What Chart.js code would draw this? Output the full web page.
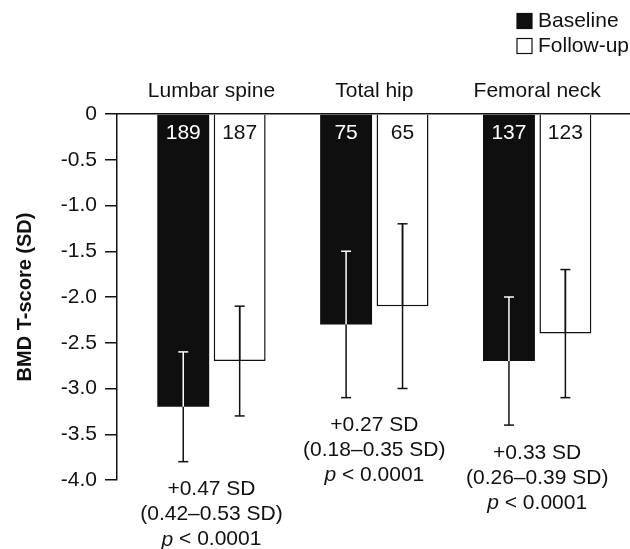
<!DOCTYPE html>
<html>
<head>
<meta charset="utf-8">
<script src="https://cdn.jsdelivr.net/npm/chart.js@4"></script>
<style>
  html, body { margin: 0; padding: 0; background: #fff; }
  #wrap { width: 630px; height: 549px; }
</style>
</head>
<body>
<div id="wrap"><canvas id="bmd-chart"></canvas></div>
<script>
// Skeletal sites
const categories = ['Lumbar spine', 'Total hip', 'Femoral neck'];

// Mean BMD T-scores
const baseline = [-3.2, -2.3, -2.7];
const followUp = [-2.7, -2.1, -2.4];

// Error bar ends
const baselineLow = [-3.8, -3.1, -3.4];
const baselineHigh = [-2.6, -1.5, -2.0];
const followUpLow = [-3.3, -3.0, -3.1];
const followUpHigh = [-2.1, -1.2, -1.7];

// Number of patients per bar
const baselineN = [189, 75, 137];
const followUpN = [187, 65, 123];

// Change in T-score shown under each site
const changeText = ['+0.47 SD', '+0.27 SD', '+0.33 SD'];
const ciText = ['(0.42–0.53 SD)', '(0.18–0.35 SD)', '(0.26–0.39 SD)'];
const pText = ['< 0.0001', '< 0.0001', '< 0.0001'];

const FONT = "'Liberation Sans', Arial, sans-serif";
const INK = '#111';

Chart.defaults.font.family = FONT;
Chart.defaults.font.size = 21;
Chart.defaults.color = INK;

/**
 * Draws the error bars; the part inside a dark bar is drawn in the dataset's inner colour.
 */
const errorBars = {
  id: 'errorBars',
  afterDatasetsDraw(chart) {
    const { ctx, scales: { y } } = chart;
    ctx.save();
    ctx.lineWidth = 1.5;
    chart.data.datasets.forEach((ds, di) => {
      const meta = chart.getDatasetMeta(di);
      meta.data.forEach((bar, i) => {
        const top = y.getPixelForValue(ds.errHigh[i]);
        const bottom = y.getPixelForValue(ds.errLow[i]);
        const barTop = Math.min(bar.base, bar.y);
        const barBottom = Math.max(bar.base, bar.y);
        const inside = (p) => p >= barTop && p <= barBottom;
        const seg = (x1, y1, x2, y2, color) => {
          ctx.strokeStyle = color;
          ctx.beginPath();
          ctx.moveTo(x1, y1);
          ctx.lineTo(x2, y2);
          ctx.stroke();
        };
        // full stem in black, then the inner part over it
        seg(bar.x, top, bar.x, bottom, INK);
        const a = Math.max(top, barTop);
        const b = Math.min(bottom, barBottom);
        if (b > a) seg(bar.x, a, bar.x, b, ds.errInside);
        // caps
        [top, bottom].forEach(p => {
          seg(bar.x - 5, p, bar.x + 5, p, inside(p) ? ds.errInside : INK);
        });
      });
    });
    ctx.restore();
  }
};

/**
 * Writes the patient counts at the top of each bar and the change text under each site.
 */
const barText = {
  id: 'barText',
  afterDatasetsDraw(chart) {
    const { ctx, chartArea, scales: { y } } = chart;
    ctx.save();
    ctx.textAlign = 'center';
    ctx.textBaseline = 'middle';
    ctx.font = `21px ${FONT}`;
    chart.data.datasets.forEach((ds, di) => {
      const meta = chart.getDatasetMeta(di);
      meta.data.forEach((bar, i) => {
        ctx.fillStyle = ds.countColor;
        ctx.fillText(String(ds.counts[i]), bar.x, chartArea.top + 19);
      });
    });

    const m0 = chart.getDatasetMeta(0);
    const m1 = chart.getDatasetMeta(1);
    categories.forEach((c, i) => {
      const x = (m0.data[i].x + m1.data[i].x) / 2;
      const lowest = Math.min(baselineLow[i], followUpLow[i]);
      const y0 = y.getPixelForValue(lowest) + 28;
      ctx.fillStyle = INK;
      ctx.textAlign = 'center';
      ctx.font = `21px ${FONT}`;
      ctx.fillText(changeText[i], x, y0);
      ctx.fillText(ciText[i], x, y0 + 25);
      // italic p followed by the value
      ctx.font = `italic 21px ${FONT}`;
      const pw = ctx.measureText('p ').width;
      ctx.font = `21px ${FONT}`;
      const rw = ctx.measureText(pText[i]).width;
      const left = x - (pw + rw) / 2;
      ctx.textAlign = 'left';
      ctx.font = `italic 21px ${FONT}`;
      ctx.fillText('p', left, y0 + 50);
      ctx.font = `21px ${FONT}`;
      ctx.fillText(pText[i], left + pw, y0 + 50);
    });
    ctx.restore();
  }
};

/**
 * Stacked legend in the top right corner.
 */
const cornerLegend = {
  id: 'cornerLegend',
  afterDraw(chart) {
    const { ctx } = chart;
    ctx.save();
    ctx.font = `21px ${FONT}`;
    ctx.textBaseline = 'middle';
    ctx.textAlign = 'left';
    chart.data.datasets.forEach((ds, i) => {
      const cy = 21 + i * 25;
      ctx.fillStyle = ds.backgroundColor;
      ctx.fillRect(517, cy - 7.5, 15, 15);
      ctx.strokeStyle = INK;
      ctx.lineWidth = 1.2;
      ctx.strokeRect(517, cy - 7.5, 15, 15);
      ctx.fillStyle = INK;
      ctx.fillText(ds.label, 538, cy);
    });
    ctx.restore();
  }
};

const canvas = document.getElementById('bmd-chart');

new Chart(canvas, {
  type: 'bar',
  data: {
    datasets: [
      {
        label: 'Baseline',
        data: baseline.map((v, i) => ({ x: i, y: v })),
        backgroundColor: '#0f0f0f',
        borderColor: INK,
        borderWidth: 0,
        errLow: baselineLow,
        errHigh: baselineHigh,
        errInside: '#ffffff',
        counts: baselineN,
        countColor: '#ffffff',
      },
      {
        label: 'Follow-up',
        data: followUp.map((v, i) => ({ x: i, y: v })),
        backgroundColor: '#ffffff',
        borderColor: INK,
        borderWidth: 1.5,
        errLow: followUpLow,
        errHigh: followUpHigh,
        errInside: INK,
        counts: followUpN,
        countColor: INK,
      },
    ],
  },
  options: {
    responsive: true,
    maintainAspectRatio: false,
    animation: false,
    categoryPercentage: 0.693,
    barPercentage: 0.92,
    layout: { padding: { top: 0, right: 0, bottom: 69, left: 0 } },
    plugins: {
      legend: { display: false },
      tooltip: { enabled: false },
    },
    scales: {
      x: {
        type: 'linear',
        position: 'top',
        min: -0.58,
        max: 2.57,
        offset: false,
        grid: { display: false, drawTicks: false },
        border: { display: true, color: INK, width: 1.5 },
        ticks: {
          stepSize: 1,
          includeBounds: false,
          autoSkip: false,
          maxRotation: 0,
          padding: 10,
          color: INK,
          font: { size: 21 },
          callback: (v) => categories[v] ?? '',
        },
        afterFit: (scale) => { scale.height = 114; },
      },
      y: {
        min: -4,
        max: 0,
        grid: {
          drawOnChartArea: false,
          drawTicks: true,
          tickLength: 12,
          color: INK,
          lineWidth: 1.5,
        },
        border: { display: true, color: INK, width: 1.5 },
        ticks: {
          stepSize: 0.5,
          padding: 8,
          color: INK,
          font: { size: 21 },
          callback: (v) => (v === 0 ? '0' : v.toFixed(1)),
        },
        title: {
          display: true,
          text: 'BMD T-score (SD)',
          color: INK,
          font: { size: 20, weight: 'bold' },
          padding: { top: 13, bottom: 0 },
        },
        afterFit: (scale) => { scale.width = 117; },
      },
    },
  },
  plugins: [errorBars, barText, cornerLegend],
});
</script>
</body>
</html>
